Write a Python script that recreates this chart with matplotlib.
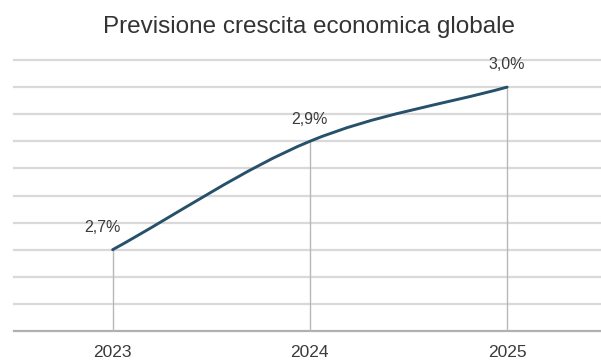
import numpy as np
import matplotlib
matplotlib.use('Agg')
import matplotlib.pyplot as plt
from matplotlib.path import Path
from matplotlib.patches import PathPatch

plt.rcParams['font.family'] = ['Liberation Sans', 'DejaVu Sans']

years = [2023, 2024, 2025]
growth = [2.7, 2.9, 3.0]
title = 'Previsione crescita economica globale'

line_color = '#27506b'
text_color = '#3a3a3a'


def smooth_path(x, y):
    # cubic bezier through the points, catmull-rom style tangents
    x = np.asarray(x, float)
    y = np.asarray(y, float)
    n = len(x)
    slopes = np.diff(y) / np.diff(x)
    tang = np.empty(n)
    tang[0] = slopes[0]
    tang[-1] = slopes[-1]
    for i in range(1, n - 1):
        tang[i] = (y[i + 1] - y[i - 1]) / (x[i + 1] - x[i - 1])
    verts = [(x[0], y[0])]
    codes = [Path.MOVETO]
    for i in range(n - 1):
        h = (x[i + 1] - x[i]) / 3.0
        verts += [(x[i] + h, y[i] + tang[i] * h),
                  (x[i + 1] - h, y[i + 1] - tang[i + 1] * h),
                  (x[i + 1], y[i + 1])]
        codes += [Path.CURVE4] * 3
    return Path(verts, codes)


def main():
    fig = plt.figure(figsize=(6.01, 3.63), dpi=100)
    ax = fig.add_axes([14 / 601, 1 - 331 / 363, 587 / 601, 271 / 363])
    ax.set_xlim(2022.5, 2025.476)
    ax.set_ylim(2.55, 3.05)

    # horizontal grid, drawn by hand so the top one is not clipped
    for g in np.arange(2.60, 3.051, 0.05):
        ax.axhline(g, color='#d9d9d9', lw=1.6, zorder=1, clip_on=False)
    ax.axhline(2.55, color='#b0b0b0', lw=1.6, zorder=2, clip_on=False)

    for x, v in zip(years, growth):
        ax.plot([x, x], [2.55, v], color='#b8b8b8', lw=1.0, zorder=2)

    ax.add_patch(PathPatch(smooth_path(years, growth), facecolor='none',
                           edgecolor=line_color, lw=2.1, zorder=4,
                           capstyle='round'))

    dx = [-7, 0, 0]
    for x, v, d in zip(years, growth, dx):
        ax.annotate(('%.1f' % v).replace('.', ',') + '%', (x, v),
                    xytext=(d, 16), textcoords='offset points',
                    ha='center', va='center', fontsize=11.5,
                    color=text_color, zorder=5)

    ax.set_xticks(years)
    ax.set_xticklabels([str(y) for y in years], fontsize=12.5, color=text_color)
    ax.tick_params(axis='x', length=0, pad=10)
    ax.set_yticks([])
    for s in ax.spines.values():
        s.set_visible(False)

    fig.text(309 / 601, 1 - 27 / 363, title, ha='center', va='center',
             fontsize=17.5, color='#333333')

    fig.savefig('out.png', dpi=100)


if __name__ == '__main__':
    main()
